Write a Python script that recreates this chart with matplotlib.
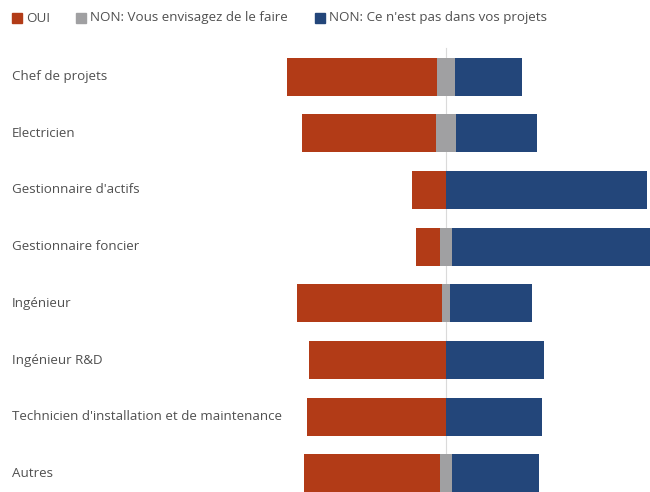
import matplotlib.pyplot as plt
import numpy as np

plt.rcParams['font.family'] = ['Open Sans', 'DejaVu Sans']

metiers = ["Chef de projets", "Electricien", "Gestionnaire d'actifs",
           "Gestionnaire foncier", "Ingénieur", "Ingénieur R&D",
           "Technicien d'installation et de maintenance", "Autres"]
# percentages per answer
oui = [64.0, 57.1, 14.3, 10.2, 61.7, 58.2, 59.1, 57.9]
non_envisage = [7.4, 8.6, 0.0, 4.9, 3.7, 0.0, 0.0, 5.2]
non_projet = [28.6, 34.3, 85.7, 84.9, 34.6, 41.8, 40.9, 36.9]

C_OUI = '#B23B17'
C_GRIS = '#A0A0A2'
C_BLEU = '#23467A'
C_TXT = '#505050'

fig = plt.figure(figsize=(6.5, 4.92), dpi=100)
W, H = 650, 492
# axes deliberately runs past the right and bottom edges (cropped chart)
ax = fig.add_axes([280 / W, 1 - 520 / H, 420 / W, 480 / H])

y = np.arange(len(metiers))
oui = np.array(oui)
gris = np.array(non_envisage)
bleu = np.array(non_projet)

ax.barh(y, -oui, left=-gris / 2, height=0.67, color=C_OUI, edgecolor='none')
ax.barh(y, gris, left=-gris / 2, height=0.67, color=C_GRIS, edgecolor='none')
ax.barh(y, bleu, left=gris / 2, height=0.67, color=C_BLEU, edgecolor='none')

ax.axvline(0, ymax=(520 - 48) / 480, color='#DADADA', lw=0.8, zorder=0)

ax.set_xlim((280 - 446) / 2.35, (700 - 446) / 2.35)
ax.set_ylim(7.82, -0.644)
for s in ax.spines.values():
    s.set_visible(False)
ax.set_xticks([])
ax.set_yticks([])

for i, m in enumerate(metiers):
    ax.text((12 - 280) / 420, i, m, transform=ax.get_yaxis_transform(),
            ha='left', va='center', fontsize=9.6, color=C_TXT)

# legend
leg = [("OUI", C_OUI, 12), ("NON: Vous envisagez de le faire", C_GRIS, 76),
       ("NON: Ce n'est pas dans vos projets", C_BLEU, 315)]
for txt, c, xp in leg:
    fig.patches.append(plt.Rectangle((xp / W, 1 - 23 / H), 10 / W, 10 / H,
                                     transform=fig.transFigure, color=c))
    fig.text((xp + 14) / W, 1 - 18 / H, txt, ha='left', va='center',
             fontsize=9.6, color=C_TXT)

plt.savefig('out.png', dpi=100)
